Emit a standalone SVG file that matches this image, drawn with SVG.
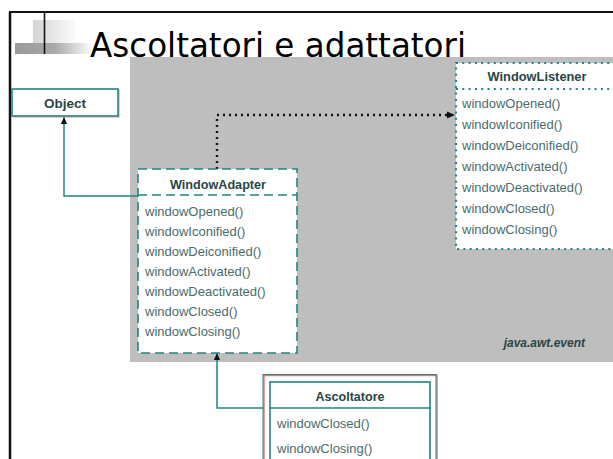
<svg xmlns="http://www.w3.org/2000/svg" width="613" height="459" viewBox="0 0 613 459">
<defs>
<linearGradient id="gLine" x1="0" x2="1" y1="0" y2="0">
<stop offset="0" stop-color="#222"/><stop offset="0.75" stop-color="#555"/><stop offset="1" stop-color="#fff"/>
</linearGradient>
<linearGradient id="gSq" x1="0" x2="1" y1="0" y2="0">
<stop offset="0" stop-color="#d4d4d4"/><stop offset="1" stop-color="#fafafa"/>
</linearGradient>
<linearGradient id="gBar" x1="0" x2="1" y1="0" y2="0">
<stop offset="0" stop-color="#9a9a9a"/><stop offset="0.5" stop-color="#a8a8a8"/><stop offset="1" stop-color="#fff"/>
</linearGradient>
<marker id="ah" viewBox="0 0 8 8" refX="8" refY="4" markerWidth="7" markerHeight="7" orient="auto" markerUnits="userSpaceOnUse">
<path d="M0,0.5 L8,4 L0,7.5 Z" fill="#111"/>
</marker>
<style>
.ghost{fill:none;stroke:#e98a8a;stroke-width:1}
.tealbox{fill:#fff;stroke:#1f8585;stroke-width:1.6}
.dashed{stroke-dasharray:9 5}
.dotted{stroke-dasharray:2 4.3;stroke-width:2.2}
.title{font-family:"Liberation Sans",Arial,sans-serif;font-weight:bold;font-size:12px;fill:#2a4545;text-anchor:middle}
.m{font-family:"Liberation Sans",Arial,sans-serif;font-size:13px;fill:#4a6c6c}
.conn{fill:none;stroke:#1f8585;stroke-width:1.5}
.dep{fill:none;stroke:#111;stroke-width:2.4;stroke-dasharray:2 4}
</style>
</defs>
<rect width="613" height="459" fill="#fff"/>
<!-- frame -->
<line x1="10" y1="12" x2="10" y2="459" stroke="#111" stroke-width="2.5"/>
<line x1="9" y1="12" x2="613" y2="12" stroke="#111" stroke-width="2"/>
<!-- title decoration -->
<rect x="33" y="20" width="42" height="24" fill="url(#gSq)"/>
<rect x="15" y="43" width="78" height="11" fill="url(#gBar)"/>
<line x1="38" y1="25.5" x2="600" y2="25.5" stroke="url(#gLine)" stroke-width="1.5"/>
<line x1="44.5" y1="12" x2="44.5" y2="54" stroke="#111" stroke-width="1.6"/>
<!-- package background -->
<rect x="130" y="57" width="483" height="305" fill="#bebebe"/>
<text x="90" y="57" font-family="'DejaVu Sans',Verdana,sans-serif" font-size="34" fill="#000" textLength="376" lengthAdjust="spacingAndGlyphs">Ascoltatori e adattatori</text>
<text x="585" y="347" font-family="'Liberation Sans',Arial,sans-serif" font-size="12" font-weight="bold" font-style="italic" fill="#2a4545" text-anchor="end">java.awt.event</text>
<!-- connectors -->
<g id="connectors">
<polyline class="conn" points="138,196 64,196 64,117" marker-end="url(#ah)"/>
<polyline class="conn" points="270,408 217,408 217,353" marker-end="url(#ah)"/>
<polyline class="dep" points="217,169 217,115 448,115"/>
<path d="M447,111.5 L455,115 L447,118.5 Z" fill="#111"/>
</g>
<!-- Object -->
<g id="object">
<rect class="ghost" x="13" y="90" width="106" height="27"/>
<rect class="tealbox" x="12" y="89" width="106" height="27"/>
<text class="title" x="65" y="107.5" textLength="42" lengthAdjust="spacingAndGlyphs">Object</text>
</g>
<!-- WindowListener -->
<g id="windowlistener">
<rect class="tealbox dotted" x="456" y="63" width="170" height="186"/>
<line class="tealbox dotted" x1="456" y1="89" x2="613" y2="89"/>
<text class="title" x="537" y="81" textLength="99" lengthAdjust="spacingAndGlyphs">WindowListener</text>
<text class="m" x="462" y="108">windowOpened()</text>
<text class="m" x="462" y="129">windowIconified()</text>
<text class="m" x="462" y="150">windowDeiconified()</text>
<text class="m" x="462" y="171">windowActivated()</text>
<text class="m" x="462" y="192">windowDeactivated()</text>
<text class="m" x="462" y="213">windowClosed()</text>
<text class="m" x="462" y="234">windowClosing()</text>
</g>
<!-- WindowAdapter -->
<g id="windowadapter">
<rect class="tealbox dashed" x="138" y="169" width="159" height="184"/>
<line class="tealbox dashed" x1="138" y1="195" x2="297" y2="195"/>
<text class="title" x="218" y="189" textLength="96" lengthAdjust="spacingAndGlyphs">WindowAdapter</text>
<text class="m" x="145" y="216">windowOpened()</text>
<text class="m" x="145" y="236">windowIconified()</text>
<text class="m" x="145" y="256">windowDeiconified()</text>
<text class="m" x="145" y="276">windowActivated()</text>
<text class="m" x="145" y="296">windowDeactivated()</text>
<text class="m" x="145" y="316">windowClosed()</text>
<text class="m" x="145" y="336">windowClosing()</text>
</g>
<!-- Ascoltatore -->
<g id="ascoltatore">
<rect x="264" y="375.5" width="173" height="100" fill="#fff" stroke="#e07878" stroke-width="1.4"/>
<rect x="263" y="374.5" width="173" height="100" fill="none" stroke="#1f8585" stroke-width="1"/>
<rect x="270" y="382" width="160" height="90" fill="#fff" stroke="#1f8585" stroke-width="1.6"/>
<line x1="270" y1="408" x2="430" y2="408" stroke="#1f8585" stroke-width="1.6"/>
<text class="title" x="350" y="401" textLength="69" lengthAdjust="spacingAndGlyphs">Ascoltatore</text>
<text class="m" x="277" y="428">windowClosed()</text>
<text class="m" x="277" y="453">windowClosing()</text>
</g>
</svg>
